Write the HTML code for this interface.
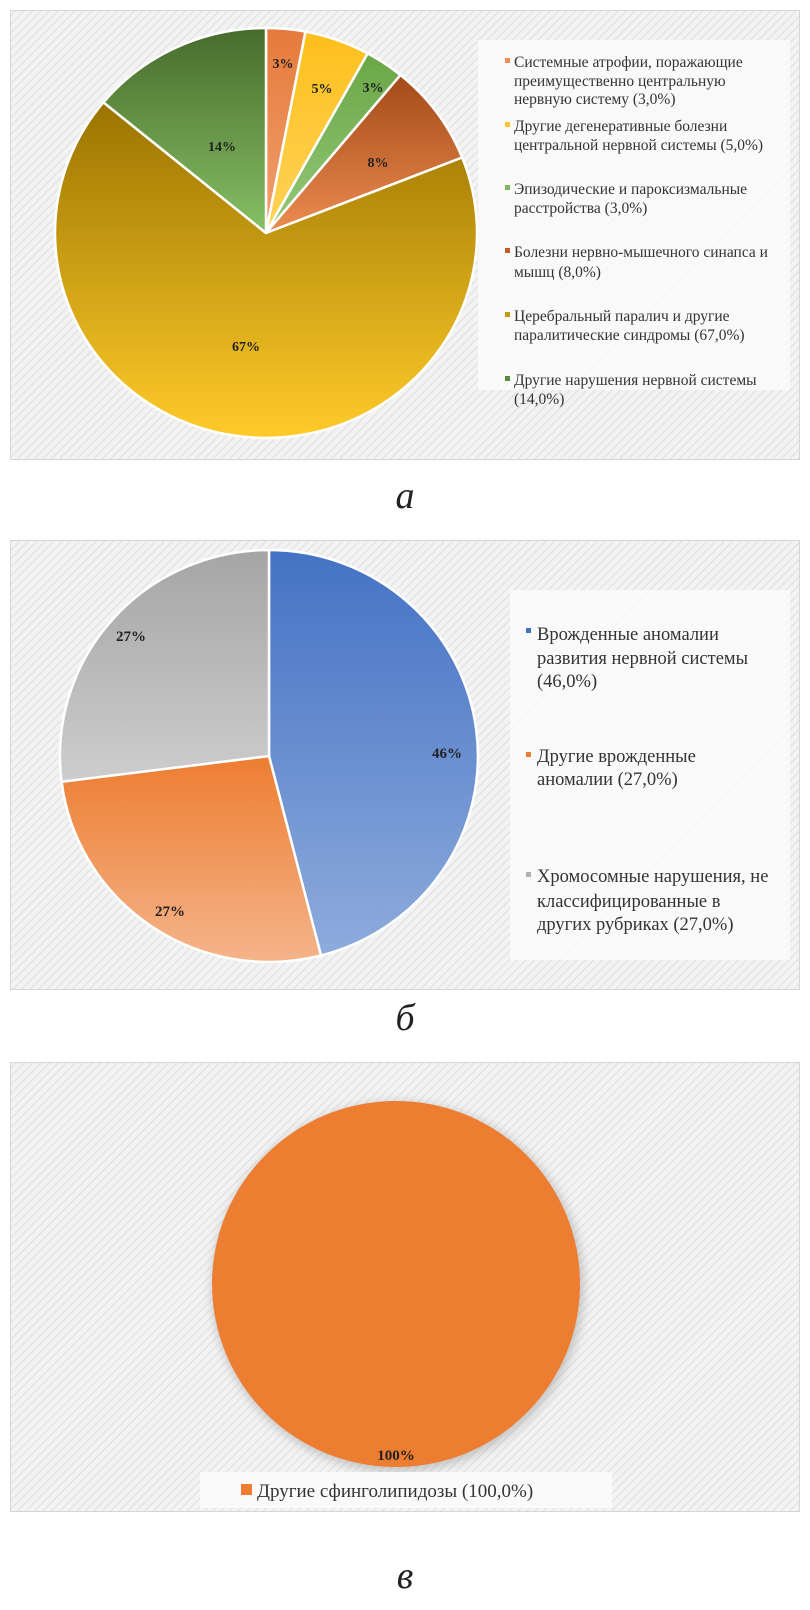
<!DOCTYPE html>
<html><head><meta charset="utf-8"><style>
body{margin:0;background:#fff;}
svg{display:block;}
text{font-family:"Liberation Serif",serif;}
</style></head><body>
<svg width="810" height="1610" viewBox="0 0 810 1610" xmlns="http://www.w3.org/2000/svg">
<defs>
<pattern id="hatch" width="6" height="6" patternUnits="userSpaceOnUse" patternTransform="rotate(45)">
<rect width="6" height="6" fill="#f3f3f3"/><rect width="1.5" height="6" fill="#e4e4e4"/>
</pattern>
<linearGradient id="g1" x1="0" y1="0" x2="0" y2="1"><stop offset="0" stop-color="#e67a3a"/><stop offset="1" stop-color="#f0a070"/></linearGradient>
<linearGradient id="g2" x1="0" y1="0" x2="0" y2="1"><stop offset="0" stop-color="#fdbf1c"/><stop offset="1" stop-color="#ffd35a"/></linearGradient>
<linearGradient id="g3" x1="0" y1="0" x2="0" y2="1"><stop offset="0" stop-color="#6aa645"/><stop offset="1" stop-color="#95c97a"/></linearGradient>
<linearGradient id="g4" x1="0" y1="0" x2="0" y2="1"><stop offset="0" stop-color="#a24a18"/><stop offset="1" stop-color="#ec8c50"/></linearGradient>
<linearGradient id="g5" x1="0" y1="0" x2="0" y2="1"><stop offset="0" stop-color="#9a7400"/><stop offset="1" stop-color="#ffcb2a"/></linearGradient>
<linearGradient id="g6" x1="0" y1="0" x2="0" y2="1"><stop offset="0" stop-color="#476b2b"/><stop offset="1" stop-color="#86c065"/></linearGradient>
<linearGradient id="b1" x1="0" y1="0" x2="0" y2="1"><stop offset="0" stop-color="#4472c4"/><stop offset="1" stop-color="#8eabdc"/></linearGradient>
<linearGradient id="b2" x1="0" y1="0" x2="0" y2="1"><stop offset="0" stop-color="#ed7d31"/><stop offset="1" stop-color="#f4b48a"/></linearGradient>
<linearGradient id="b3" x1="0" y1="0" x2="0" y2="1"><stop offset="0" stop-color="#a5a5a5"/><stop offset="1" stop-color="#cdcdcd"/></linearGradient>
<filter id="sh" x="-10%" y="-10%" width="120%" height="120%"><feGaussianBlur stdDeviation="5"/></filter>
</defs>

<!-- Chart A -->
<rect x="10.5" y="10.5" width="789" height="449" fill="url(#hatch)" stroke="#d6d6d6"/>
<rect x="478" y="40" width="312" height="350" fill="#fafafa" opacity="0.85"/>
<g stroke="#fff" stroke-width="2.5" stroke-linejoin="round">
<path d="M266,233 L266,28 A211,205 0 0 1 305.5,31.6 Z" fill="url(#g1)"/>
<path d="M266,233 L305.5,31.6 A211,205 0 0 1 367.7,53.4 Z" fill="url(#g2)"/>
<path d="M266,233 L367.7,53.4 A211,205 0 0 1 400.5,75 Z" fill="url(#g3)"/>
<path d="M266,233 L400.5,75 A211,205 0 0 1 462.2,157.5 Z" fill="url(#g4)"/>
<path d="M266,233 L462.2,157.5 A211,205 0 1 1 103.4,102.3 Z" fill="url(#g5)"/>
<path d="M266,233 L103.4,102.3 A211,205 0 0 1 266,28 Z" fill="url(#g6)"/>
</g>
<g font-weight="bold" font-size="14" fill="#222" text-anchor="middle">
<text x="283" y="68">3%</text><text x="322" y="93">5%</text><text x="373" y="92">3%</text>
<text x="378" y="167">8%</text><text x="222" y="151">14%</text><text x="246" y="351">67%</text>
</g>
<g font-size="15.5" fill="#333">
<rect x="505" y="58" width="5" height="5" fill="#ed8a55"/>
<text x="514" y="67">Системные атрофии, поражающие</text>
<text x="514" y="86">преимущественно центральную</text>
<text x="514" y="104">нервную систему (3,0%)</text>
<rect x="505" y="122" width="5" height="5" fill="#ffc832"/>
<text x="514" y="131">Другие дегенеративные болезни</text>
<text x="514" y="150">центральной нервной системы (5,0%)</text>
<rect x="505" y="185" width="5" height="5" fill="#80b860"/>
<text x="514" y="194">Эпизодические и пароксизмальные</text>
<text x="514" y="213">расстройства (3,0%)</text>
<rect x="505" y="248" width="5" height="5" fill="#c55a22"/>
<text x="514" y="257">Болезни нервно-мышечного синапса и</text>
<text x="514" y="277">мышц (8,0%)</text>
<rect x="505" y="312" width="5" height="5" fill="#c49a10"/>
<text x="514" y="321">Церебральный паралич и другие</text>
<text x="514" y="340">паралитические синдромы (67,0%)</text>
<rect x="505" y="376" width="5" height="5" fill="#5a8a3a"/>
<text x="514" y="385">Другие нарушения нервной системы</text>
<text x="514" y="404">(14,0%)</text>
</g>
<text x="405" y="508" font-size="38" font-style="italic" text-anchor="middle" fill="#222">а</text>

<!-- Chart B -->
<rect x="10.5" y="540.5" width="789" height="449" fill="url(#hatch)" stroke="#d6d6d6"/>
<rect x="510" y="590" width="280" height="370" fill="#fafafa" opacity="0.85"/>
<g stroke="#fff" stroke-width="2.5" stroke-linejoin="round">
<path d="M269,756 L269,550 A209,206 0 0 1 321,955.5 Z" fill="url(#b1)"/>
<path d="M269,756 L321,955.5 A209,206 0 0 1 61.6,781.8 Z" fill="url(#b2)"/>
<path d="M269,756 L61.6,781.8 A209,206 0 0 1 269,550 Z" fill="url(#b3)"/>
</g>
<g font-weight="bold" font-size="15" fill="#222" text-anchor="middle">
<text x="447" y="758">46%</text><text x="131" y="641">27%</text><text x="170" y="916">27%</text>
</g>
<g font-size="18.5" fill="#333">
<rect x="526" y="628" width="5" height="5" fill="#4472c4"/>
<text x="537" y="640">Врожденные аномалии</text>
<text x="537" y="664">развития нервной системы</text>
<text x="537" y="687">(46,0%)</text>
<rect x="526" y="752" width="5" height="5" fill="#ed7d31"/>
<text x="537" y="762">Другие врожденные</text>
<text x="537" y="785">аномалии (27,0%)</text>
<rect x="526" y="872" width="5" height="5" fill="#b0b0b0"/>
<text x="537" y="882">Хромосомные нарушения, не</text>
<text x="537" y="907">классифицированные в</text>
<text x="537" y="930">других рубриках (27,0%)</text>
</g>
<text x="405" y="1030" font-size="38" font-style="italic" text-anchor="middle" fill="#222">б</text>

<!-- Chart C -->
<rect x="10.5" y="1062.5" width="789" height="449" fill="url(#hatch)" stroke="#d6d6d6"/>
<ellipse cx="398" cy="1287" rx="186" ry="185" fill="#999" opacity="0.5" filter="url(#sh)"/>
<ellipse cx="396" cy="1284" rx="184" ry="183" fill="#ed7d31"/>
<text x="396" y="1460" font-weight="bold" font-size="15" text-anchor="middle" fill="#222">100%</text>
<rect x="200" y="1472" width="412" height="36" fill="#fafafa"/>
<rect x="241" y="1484" width="11" height="11" fill="#ed7d31"/>
<text x="257" y="1497" font-size="19" fill="#333">Другие сфинголипидозы (100,0%)</text>
<text x="405" y="1588" font-size="38" font-style="italic" text-anchor="middle" fill="#222">в</text>
</svg>
</body></html>
